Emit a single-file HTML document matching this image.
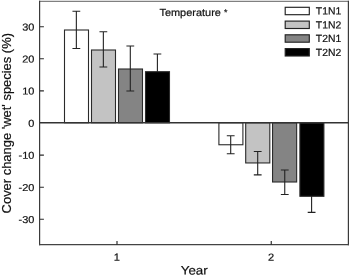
<!DOCTYPE html>
<html><head><meta charset="utf-8">
<style>
html,body{margin:0;padding:0;background:#fff;}
body{width:350px;height:278px;overflow:hidden;}
svg{display:block;}
text{font-family:"Liberation Sans",sans-serif;fill:#111;stroke:#111;stroke-width:0.2px;}
</style></head><body>
<svg width="350" height="278" viewBox="0 0 350 278">
<rect width="350" height="278" fill="#fff"/>
<!-- bars -->
<g stroke="#2a2a2a" stroke-width="1.1">
<rect x="64.5" y="30" width="24" height="92.75" fill="#fff"/>
<rect x="91.5" y="50" width="24" height="72.75" fill="#c3c3c3"/>
<rect x="118.5" y="69" width="24" height="53.75" fill="#848484"/>
<rect x="145.5" y="71.7" width="24" height="51.05" fill="#000"/>
<rect x="218.9" y="122.75" width="24" height="22" fill="#fff"/>
<rect x="245.7" y="122.75" width="24.1" height="40.2" fill="#c3c3c3"/>
<rect x="272.55" y="122.75" width="24.1" height="59.25" fill="#848484"/>
<rect x="299.9" y="122.75" width="24" height="73.55" fill="#000"/>
</g>
<!-- error bars -->
<g stroke="#222" stroke-width="1.1" fill="none">
<path d="M76.35 11.30V48.50M72.45 11.30h7.80M72.45 48.50h7.80"/>
<path d="M103.35 31.75V67.00M99.45 31.75h7.80M99.45 67.00h7.80"/>
<path d="M130.30 46.00V91.00M126.40 46.00h7.80M126.40 91.00h7.80"/>
<path d="M157.40 53.95V71.70M153.50 53.95h7.80"/>
<path d="M230.70 135.70V153.80M226.80 135.70h7.80M226.80 153.80h7.80"/>
<path d="M257.70 151.50V174.90M253.80 151.50h7.80M253.80 174.90h7.80"/>
<path d="M284.75 170.00V194.50M280.85 170.00h7.80M280.85 194.50h7.80"/>
<path d="M311.60 196.00V212.40M307.70 212.40h7.80"/>
</g>
<!-- frame -->
<g fill="none">
<path d="M39 1.35H349" stroke="#808080" stroke-width="1.2"/>
<path d="M39.6 0.8V245.3" stroke="#3a3a3a" stroke-width="1.2"/>
<path d="M348.4 0.8V245.3" stroke="#3a3a3a" stroke-width="1.2"/>
<path d="M39 244.65H349" stroke="#444" stroke-width="1.4"/>
<path d="M40 122.75H348.5" stroke="#333" stroke-width="1.3"/>
<path d="M40 26.7h3.9M40 58.8h3.9M40 90.9h3.9M40 155.1h3.9M40 187.2h3.9M40 219.3h3.9" stroke="#2a2a2a" stroke-width="1.1"/>
<path d="M117 244.7V241M271.25 244.7V241" stroke="#2a2a2a" stroke-width="1.15"/>
</g>
<g font-size="10" text-anchor="end">
<text transform="translate(34.4,30.4) scale(1.1,1) rotate(0.05)">30</text>
<text transform="translate(34.4,62.5) scale(1.1,1) rotate(0.05)">20</text>
<text transform="translate(34.4,94.6) scale(1.1,1) rotate(0.05)">10</text>
<text transform="translate(34.4,126.7) scale(1.1,1) rotate(0.05)">0</text>
<text transform="translate(34.4,158.8) scale(1.1,1) rotate(0.05)">-10</text>
<text transform="translate(34.4,190.9) scale(1.1,1) rotate(0.05)">-20</text>
<text transform="translate(34.4,223.0) scale(1.1,1) rotate(0.05)">-30</text>
</g>
<g font-size="10.4" text-anchor="middle">
<text transform="translate(116.8,260.7) scale(1.07,1) rotate(0.05)">1</text>
<text transform="translate(271.2,260.7) scale(1.07,1) rotate(0.05)">2</text>
</g>
<text transform="translate(159.4,16) rotate(0.05)" font-size="10.3" textLength="61.5" lengthAdjust="spacingAndGlyphs">Temperature</text>
<text transform="translate(225.6,15.2) rotate(0.05)" font-size="8.8" text-anchor="middle">*</text>
<text transform="translate(180.7,274.4) rotate(0.05)" font-size="12.3" textLength="27" lengthAdjust="spacingAndGlyphs">Year</text>
<text transform="translate(10.6,213.4) rotate(-90)" font-size="12.9" textLength="180.4" lengthAdjust="spacingAndGlyphs">Cover change 'wet' species (%)</text>
<!-- legend -->
<g stroke="#222" stroke-width="1.15">
<rect x="285.2" y="7.3" width="24.1" height="7.4" fill="#fff"/>
<rect x="285.2" y="21.1" width="24.1" height="7.4" fill="#c3c3c3"/>
<rect x="285.2" y="34.8" width="24.1" height="7.4" fill="#848484"/>
<rect x="285.2" y="48.6" width="24.1" height="7.4" fill="#000"/>
</g>
<g font-size="10.4">
<text transform="translate(315.8,14.6) rotate(0.05)">T1N1</text>
<text transform="translate(315.8,28.4) rotate(0.05)">T1N2</text>
<text transform="translate(315.8,42.1) rotate(0.05)">T2N1</text>
<text transform="translate(315.8,55.9) rotate(0.05)">T2N2</text>
</g>
</svg>
</body></html>
